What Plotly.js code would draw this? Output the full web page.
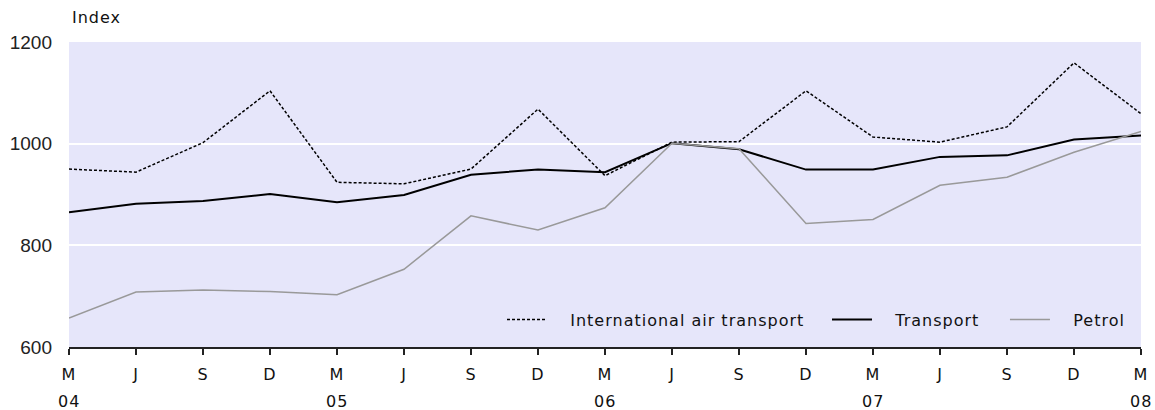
<!DOCTYPE html>
<html>
<head>
<meta charset="utf-8">
<script src="https://cdn.plot.ly/plotly-3.0.1.min.js"></script>
<style>
  html, body { margin: 0; padding: 0; background: #ffffff; }
  #chart { width: 1155px; height: 410px; }
  /* wide, evenly spaced lettering for the key, tick labels and captions */
  svg text { letter-spacing: 1px; }
  svg .ytick text { letter-spacing: 0; }
</style>
</head>
<body>
<div id="chart"></div>
<script>
// Quarterly index values, March 2004 to March 2008
const months = ['M','J','S','D','M','J','S','D','M','J','S','D','M','J','S','D','M'];
const yearLabels = ['04','05','06','07','08'];
const yearPositions = [0, 4, 8, 12, 16];

const airTransport = [950, 944, 1002, 1104, 924, 921, 950, 1068, 937, 1003, 1004, 1104, 1013, 1003, 1033, 1159, 1059];
const transport    = [865, 882, 887, 901, 885, 899, 939, 949, 944, 1001, 989, 949, 949, 974, 977, 1008, 1016];
const petrol       = [657, 708, 712, 709, 703, 753, 858, 830, 874, 1001, 990, 843, 851, 918, 934, 983, 1024];

const xs = months.map((_, i) => i);

// gap between each key line and its label
const pad = '\u00a0\u00a0\u00a0';

const traces = [
  {
    x: xs, y: airTransport, type: 'scatter', mode: 'lines',
    name: pad + 'International air transport', legend: 'legend',
    line: { color: '#000000', width: 1.5, dash: '3px,2px' }
  },
  {
    x: xs, y: transport, type: 'scatter', mode: 'lines',
    name: pad + 'Transport', legend: 'legend2',
    line: { color: '#000000', width: 2 }
  },
  {
    x: xs, y: petrol, type: 'scatter', mode: 'lines',
    name: pad + 'Petrol', legend: 'legend3',
    line: { color: '#999999', width: 1.5 }
  }
];

const textFont = { family: 'DejaVu Sans, sans-serif', size: 16, color: '#111111' };

function keyBox(x) {
  return {
    orientation: 'h', x: x, xanchor: 'left', y: 0.09, yanchor: 'middle',
    bgcolor: 'rgba(0,0,0,0)', borderwidth: 0, font: textFont, itemwidth: 40
  };
}

const annotations = yearLabels.map((t, k) => ({
  x: yearPositions[k], xref: 'x',
  y: 0, yref: 'paper', yanchor: 'middle', yshift: -54,
  text: t, showarrow: false, font: textFont
}));
annotations.push({
  x: 0, xref: 'paper', xanchor: 'left', xshift: 1,
  y: 1, yref: 'paper', yanchor: 'middle', yshift: 25,
  text: 'Index', showarrow: false, font: textFont
});

const layout = {
  width: 1155, height: 410,
  margin: { l: 69, r: 14, t: 42, b: 63 },
  paper_bgcolor: '#ffffff',
  plot_bgcolor: '#e6e6fa',
  showlegend: true,
  legend: keyBox(0.4039),
  legend2: keyBox(0.7071),
  legend3: keyBox(0.8731),
  xaxis: {
    type: 'linear', range: [0, 16],
    tickmode: 'array', tickvals: xs, ticktext: months,
    showgrid: false, zeroline: false,
    showline: true, linecolor: '#222222', linewidth: 2,
    ticks: 'outside', ticklen: 6, tickwidth: 2, tickcolor: '#222222',
    ticklabelstandoff: 6,
    tickfont: textFont
  },
  yaxis: {
    range: [600, 1200], tickvals: [600, 800, 1000, 1200],
    showgrid: true, gridcolor: '#ffffff', gridwidth: 2,
    zeroline: false, showline: false, ticks: '',
    ticklabelstandoff: 16,
    tickfont: { family: 'Liberation Sans, Arial, sans-serif', size: 19, color: '#222222' }
  },
  annotations: annotations,
  hovermode: false
};

Plotly.newPlot('chart', traces, layout, { displayModeBar: false, staticPlot: true });
</script>
</body>
</html>
